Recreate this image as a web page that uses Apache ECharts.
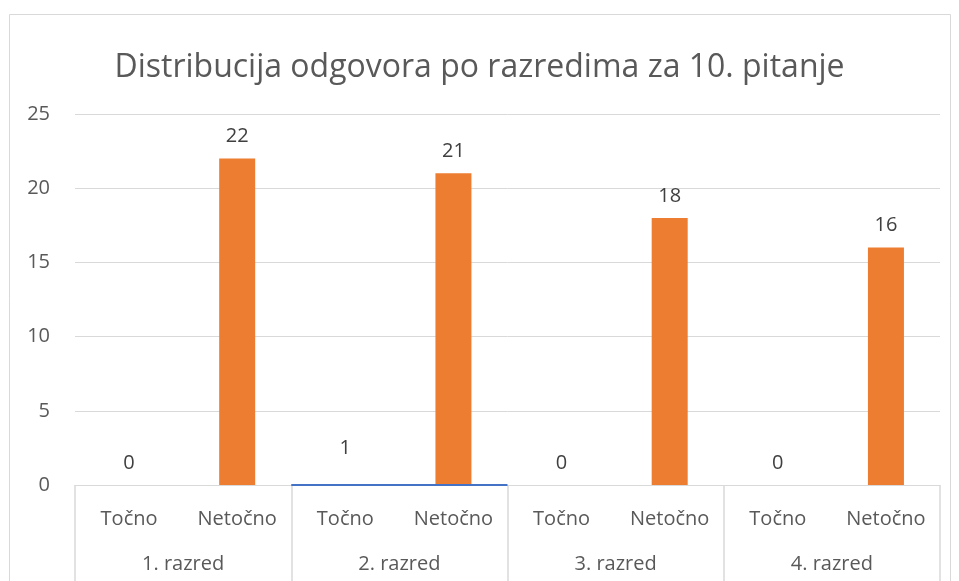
<!DOCTYPE html>
<html><head><meta charset="utf-8">
<script src="https://cdn.jsdelivr.net/npm/echarts@6/dist/echarts.min.js"></script>
<style>html,body{margin:0;padding:0;background:#fff}#c{width:959px;height:581px}</style>
</head><body><div id="c"></div>
<script>
const titleText = 'Distribucija odgovora po razredima za 10. pitanje';
const subCategories = ['Točno','Netočno','Točno','Netočno','Točno','Netočno','Točno','Netočno'];
const groups = ['1. razred','2. razred','3. razred','4. razred'];
const tocno = [0, 1, 0, 0];
const netocno = [22, 21, 18, 16];
const yTicks = [0, 5, 10, 15, 20, 25];

const tocnoData = subCategories.map((c,i)=> i%2===0 ? tocno[i/2] : '-');
const netocnoData = subCategories.map((c,i)=> i%2===1 ? netocno[(i-1)/2] : '-');
const FONT = '"Open Sans", sans-serif';

const chart = echarts.init(document.getElementById('c'), null, {renderer:'canvas'});
chart.setOption({
  animation:false,
  backgroundColor:'#fff',
  textStyle:{fontFamily:FONT},
  title:{text:titleText,left:'center',top:47,textStyle:{fontFamily:FONT,fontSize:32,fontWeight:'normal',color:'#595959'}},
  graphic:[{type:'rect',z:-10,shape:{x:9.5,y:14.5,width:941,height:600},style:{fill:'none',stroke:'#d9d9d9',lineWidth:1}}],
  grid:{left:75,right:19,top:114,bottom:96},
  xAxis:[
    {type:'category',data:subCategories,position:'bottom',
     axisLine:{show:true,lineStyle:{color:'#d9d9d9',width:1}},
     axisTick:{show:false},
     axisLabel:{color:'#595959',fontSize:20,margin:24,fontFamily:FONT}},
    {type:'category',data:groups,position:'bottom',
     axisLine:{show:false},
     axisTick:{show:true,length:96,lineStyle:{color:'#d9d9d9',width:1.5}},
     axisLabel:{color:'#595959',fontSize:20,margin:69,fontFamily:FONT}}
  ],
  yAxis:{type:'value',min:0,max:25,interval:5,
    axisLine:{show:false},axisTick:{show:false},
    axisLabel:{color:'#595959',fontSize:20,margin:25,fontFamily:FONT},
    splitLine:{lineStyle:{color:'#d9d9d9',width:1}}},
  series:[
    {name:'Točno',type:'bar',stack:'s',xAxisIndex:0,data:tocnoData,barWidth:36,
     itemStyle:{color:'rgba(0,0,0,0)'},
     label:{show:true,position:'top',distance:12,color:'#404040',fontSize:20,fontFamily:FONT}},
    {name:'Netočno',type:'bar',stack:'s',xAxisIndex:0,data:netocnoData,barWidth:36,
     itemStyle:{color:'#ed7d31'},
     label:{show:true,position:'top',distance:12,color:'#404040',fontSize:20,fontFamily:FONT}},
    {name:'TočnoLine',type:'custom',xAxisIndex:0,data:tocnoData.map((v,i)=>[i,v]),z:5,
     renderItem:function(params,api){
       const v = api.value(1);
       if(!(v>0)) return null;
       const p = api.coord([api.value(0),0]);
       const w = api.size([1,0])[0];
       return {type:'line',shape:{x1:p[0]-w/2,y1:p[1],x2:p[0]+w*1.5,y2:p[1]},style:{stroke:'#4472c4',lineWidth:2}};
     }}
  ]
});
</script></body></html>
